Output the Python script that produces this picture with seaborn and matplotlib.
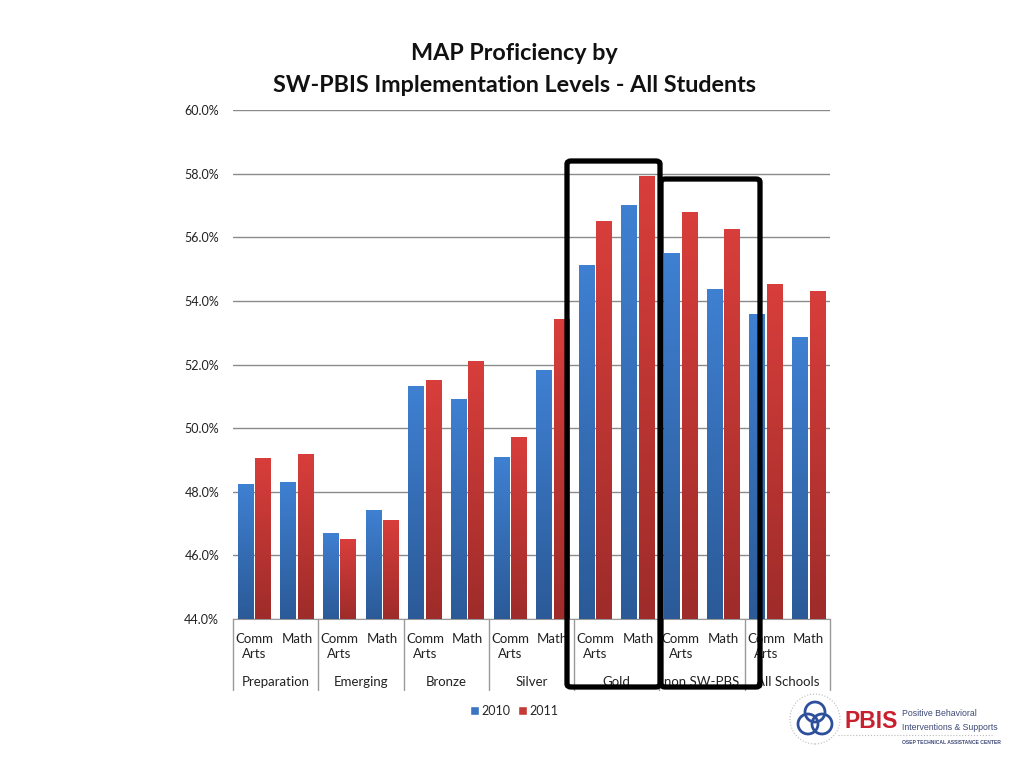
import numpy as np
import pandas as pd
import matplotlib
matplotlib.use("Agg")
import matplotlib.pyplot as plt
import seaborn as sns
from matplotlib.colors import LinearSegmentedColormap
from matplotlib.patches import FancyBboxPatch, Ellipse, Patch
from matplotlib.lines import Line2D
import matplotlib.transforms as mtransforms

# data
groups = ["Preparation", "Emerging", "Bronze", "Silver", "Gold", "non SW-PBS", "All Schools"]
subjects = ["Comm\nArts", "Math"]
years = ["2010", "2011"]
vals_2010 = [48.22, 48.28, 46.69, 47.41, 51.32, 50.90, 49.09, 51.82, 55.10, 57.00, 55.50, 54.37, 53.56, 52.85]
vals_2011 = [49.04, 49.16, 46.50, 47.09, 51.50, 52.10, 49.70, 53.40, 56.48, 57.90, 56.78, 56.25, 54.50, 54.28]
y_ticks = [44, 46, 48, 50, 52, 54, 56, 58, 60]

keys = [g + "|" + s for g in groups for s in subjects]
df = pd.DataFrame({
    "cat": keys * 2,
    "year": ["2010"] * len(keys) + ["2011"] * len(keys),
    "val": vals_2010 + vals_2011,
})

sns.set_style("white")
plt.rcParams["font.family"] = ["Lato", "DejaVu Sans"]

blue_mid = "#3A74C2"
red_mid = "#C43A36"

fig = plt.figure(figsize=(10.24, 7.68), dpi=100)
ax = fig.add_axes([233 / 1024, 1 - 619 / 768, (830 - 233) / 1024, (619 - 110) / 768])

sns.barplot(data=df, x="cat", y="val", hue="year", order=keys, hue_order=years,
            palette=[blue_mid, red_mid], width=0.82, gap=0.1, ax=ax, legend=False)

# gradient fill on the bars
cmaps = {
    "2010": LinearSegmentedColormap.from_list("b", ["#2B5A97", "#3F80D2"]),
    "2011": LinearSegmentedColormap.from_list("r", ["#9E2C2A", "#D83E3B"]),
}
grad = np.linspace(0, 1, 256).reshape(-1, 1)
bars = [p for p in ax.patches if p.get_height() > 0]
for i, p in enumerate(bars):
    yr = "2010" if i < len(keys) else "2011"
    x0 = p.get_x()
    w = p.get_width()
    top = p.get_y() + p.get_height()
    ax.imshow(grad, extent=[x0, x0 + w, 44, top], origin="lower", aspect="auto",
              cmap=cmaps[yr], zorder=3)
    p.set_visible(False)
ax.set_ylim(44, 60)
ax.set_xlim(-0.5, len(keys) - 0.5)

# axes styling
ax.set_yticks(y_ticks)
ax.set_yticklabels([f"{t:.1f}%" for t in y_ticks], fontsize=9, color="#222222")
ax.yaxis.grid(True, color="#8a8a8a", linewidth=1)
ax.set_axisbelow(True)
for s in ["left", "right", "top"]:
    ax.spines[s].set_visible(False)
ax.spines["bottom"].set_color("#9a9a9a")
ax.tick_params(axis="y", length=0, pad=10)
ax.set_xticks(range(len(keys)))
ax.set_xticklabels([k.split("|")[1] for k in keys], fontsize=9.5, color="#222222",
                   linespacing=1.35, va="top", ha="center", multialignment="center")
ax.tick_params(axis="x", length=0, pad=10)
ax.set_xlabel("")
ax.set_ylabel("")

# group labels and separators below the axis
trans = mtransforms.blended_transform_factory(ax.transData, ax.transAxes)
for j, g in enumerate(groups):
    ax.text(2 * j + 0.5, -0.124, g, transform=trans, ha="center", va="center",
            fontsize=9.5, color="#222222")
for b in range(len(groups) + 1):
    ax.add_line(Line2D([2 * b - 0.5, 2 * b - 0.5], [0, -0.14], transform=trans,
                       color="#9a9a9a", linewidth=1, clip_on=False))

# title
fig.text(0.502, 1 - 54 / 768, "MAP Proficiency by", ha="center", va="center",
         fontsize=16.8, fontweight="bold", color="#111111")
fig.text(0.502, 1 - 86 / 768, "SW-PBIS Implementation Levels - All Students",
         ha="center", va="center", fontsize=16.8, fontweight="bold", color="#111111")

# legend
handles = [Patch(facecolor=blue_mid, label="2010"), Patch(facecolor=red_mid, label="2011")]
fig.legend(handles=handles, loc="center", bbox_to_anchor=(0.502, 1 - 711 / 768), ncol=2,
           frameon=False, fontsize=9, handlelength=0.7, handleheight=0.7,
           handletextpad=0.2, columnspacing=0.6)

# highlight boxes
def px_box(x0, y0, x1, y1):
    return FancyBboxPatch((x0 / 1024, 1 - y1 / 768), (x1 - x0) / 1024, (y1 - y0) / 768,
                          boxstyle="round,pad=0,rounding_size=0.004",
                          transform=fig.transFigure, fill=False,
                          edgecolor="black", linewidth=3.8, zorder=10)

fig.add_artist(px_box(661, 179, 760, 687))
fig.add_artist(px_box(567, 161, 660, 687))

# PBIS logo
def fx(x):
    return x / 1024

def fy(y):
    return 1 - y / 768

def ring(cx, cy, r, **kw):
    return Ellipse((fx(cx), fy(cy)), 2 * r / 1024, 2 * r / 768,
                   transform=fig.transFigure, fill=False, **kw)

logo_blue = "#2E4F9C"
for cx, cy in [(815, 712), (808, 724), (822, 724)]:
    fig.add_artist(ring(cx, cy, 10, edgecolor=logo_blue, linewidth=2))
fig.add_artist(ring(815, 719, 25, edgecolor="#bbbbbb", linewidth=0.8, linestyle=":"))
fig.text(fx(844), fy(721), "PBIS", ha="left", va="center", fontsize=16.5,
         fontweight="bold", color="#C8202F", family=["Liberation Sans", "DejaVu Sans"])
small = ["Liberation Sans", "DejaVu Sans"]
fig.text(fx(902), fy(713), "Positive Behavioral", ha="left", va="center",
         fontsize=6.3, color="#3E4A78", family=small)
fig.text(fx(902), fy(727), "Interventions & Supports", ha="left", va="center",
         fontsize=6.3, color="#3E4A78", family=small)
fig.add_artist(Line2D([fx(838), fx(992)], [fy(735), fy(735)], transform=fig.transFigure,
                      color="#bbbbbb", linewidth=0.8, linestyle=":"))
fig.text(fx(902), fy(742), "OSEP TECHNICAL ASSISTANCE CENTER", ha="left", va="center",
         fontsize=3.6, fontweight="bold", color="#3E4A78", family=small)

fig.savefig("out.png", dpi=100, facecolor="white")
